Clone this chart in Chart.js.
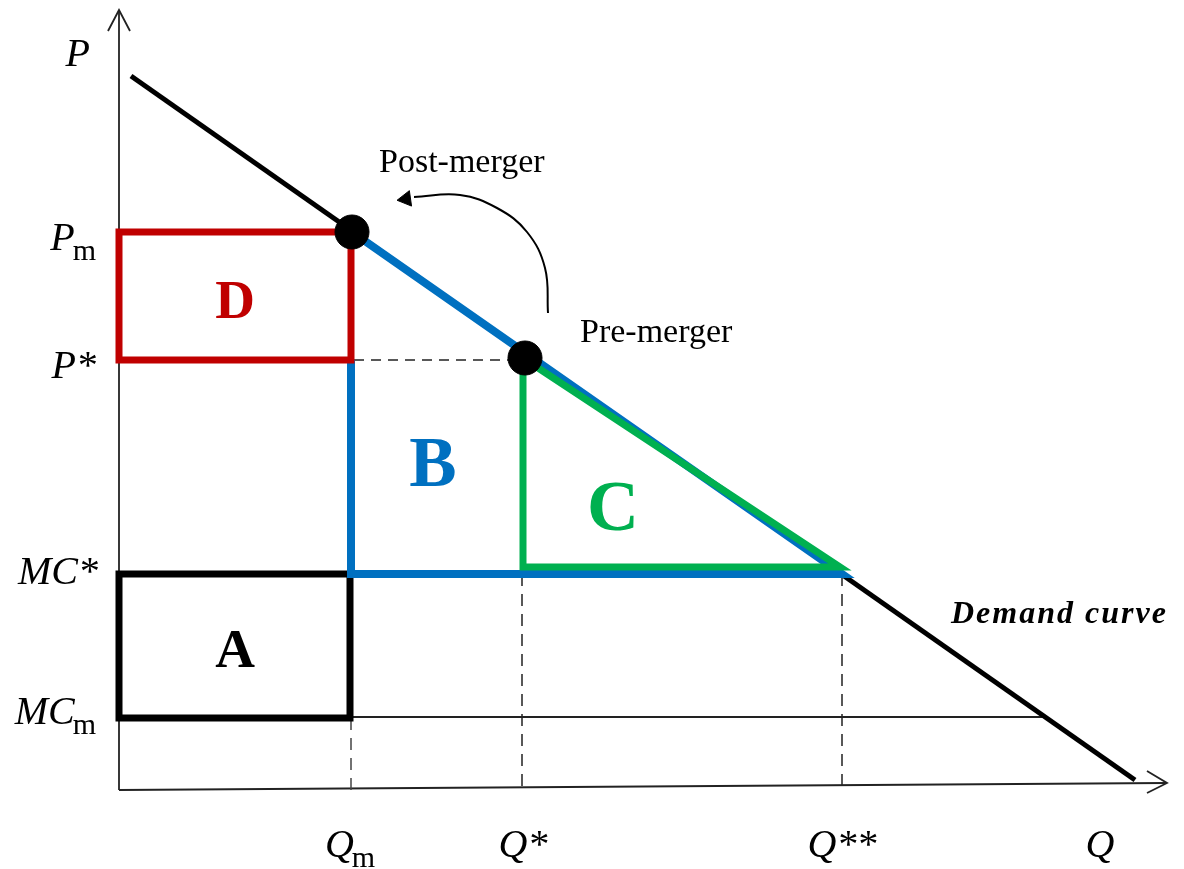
<!DOCTYPE html>
<html>
<head>
<meta charset="utf-8">
<script src="https://cdn.jsdelivr.net/npm/chart.js@4.4.0/dist/chart.umd.min.js"></script>
<style>
    html, body { margin: 0; padding: 0; background: #fff; }
    #wrap { width: 1184px; height: 869px; }
</style>
</head>
<body>
<div id="wrap"><canvas id="chart" width="1184" height="869"></canvas></div>
<script>
// Market values (Q = quantity, P = price)
const qMonopoly = 2.32;     // Qm
const qStar = 4.04;         // Q*
const qStarStar = 7.23;     // Q**
const pMonopoly = 5.58;     // Pm
const pStar = 4.30;         // P*
const mcStar = 2.16;        // MC*
const mcMonopoly = 0.72;    // MCm

// Demand curve end points
const demandQ = [0.12, 10.16];
const demandP = [7.14, 0.10];

// Equilibrium points: post-merger, pre-merger
const eqQ = [2.33, 4.06];
const eqP = [5.58, 4.32];

// Curved arrow between the two equilibria
const arrowQ = [4.29, 4.26, 4.08, 3.78, 3.41, 2.95];
const arrowP = [4.77, 5.22, 5.58, 5.82, 5.95, 5.93];

// Axis labels
const priceLabels = ['P', 'P', 'P*', 'MC*', 'MC'];
const priceSubs = ['', 'm', '', '', 'm'];
const priceValues = [7.26, pMonopoly, pStar, mcStar, mcMonopoly];
const qtyLabels = ['Q', 'Q*', 'Q**', 'Q'];
const qtySubs = ['m', '', '', ''];
const qtyValues = [qMonopoly, qStar, qStarStar, 9.81];

const RED = '#C00000';
const BLUE = '#0070C0';
const GREEN = '#00B050';
const SERIF = '"Liberation Serif", "Times New Roman", serif';

function pts(xs, ys) {
    return xs.map((x, i) => ({ x: x, y: ys[i] }));
}

function seg(opts) {
    return Object.assign({
        type: 'scatter',
        showLine: true,
        pointRadius: 0,
        borderColor: '#000',
        borderWidth: 2,
        fill: false,
        tension: 0
    }, opts);
}

const datasets = [
    // dots on top
    {
        type: 'scatter', data: pts(eqQ, eqP), pointRadius: 17,
        pointBackgroundColor: '#000', pointBorderColor: '#000', order: 0
    },
    // arrowhead of curved arrow
    {
        type: 'scatter', data: [{ x: arrowQ[arrowQ.length - 1] - 0.08, y: arrowP[arrowP.length - 1] - 0.02 }],
        pointStyle: 'triangle', pointRadius: 9, rotation: -98,
        pointBackgroundColor: '#000', pointBorderColor: '#000', order: 1
    },
    seg({ data: pts(arrowQ, arrowP), tension: 0.4, borderWidth: 2, order: 2 }),
    // D (red)
    seg({
        data: pts([0, qMonopoly, qMonopoly, 0, 0], [pMonopoly, pMonopoly, pStar, pStar, pMonopoly]),
        borderColor: RED, borderWidth: 7, borderJoinStyle: 'miter', borderCapStyle: 'square', order: 3
    }),
    // C (green)
    seg({
        data: pts([qStar + 0.03, qStar, qStar, qStarStar - 0.02, qStar + 0.03],
                  [pStar, pStar, mcStar + 0.07, mcStar + 0.07, pStar]),
        borderColor: GREEN, borderWidth: 7, borderJoinStyle: 'miter', order: 4
    }),
    // B (blue)
    seg({
        data: pts([qMonopoly, qMonopoly, qStarStar, eqQ[0]], [pStar, mcStar, mcStar, eqP[0]]),
        borderColor: BLUE, borderWidth: 8, borderJoinStyle: 'miter', order: 5
    }),
    // A (black)
    seg({
        data: pts([0, qMonopoly - 0.01, qMonopoly - 0.01, 0, 0], [mcStar, mcStar, mcMonopoly, mcMonopoly, mcStar]),
        borderColor: '#000', borderWidth: 7, borderJoinStyle: 'miter', borderCapStyle: 'square', order: 6
    }),
    // demand curve
    seg({ data: pts(demandQ, demandP), borderWidth: 5, order: 7 }),
    // MCm line
    seg({ data: pts([0, 9.26], [mcMonopoly + 0.01, mcMonopoly + 0.01]), borderWidth: 2, borderColor: '#222', order: 8 }),
    // dashed guides
    seg({ data: pts([qMonopoly + 0.03, qStar], [pStar, pStar]), borderWidth: 1.5, borderDash: [10, 7], borderColor: '#222', order: 9 }),
    seg({ data: pts([qMonopoly, qMonopoly], [mcMonopoly, 0]), borderWidth: 1.5, borderDash: [12, 8], borderColor: '#444', order: 9 }),
    seg({ data: pts([qStar - 0.01, qStar - 0.01], [mcStar, 0]), borderWidth: 1.5, borderDash: [12, 8], borderColor: '#222', order: 9 }),
    seg({ data: pts([qStarStar, qStarStar], [mcStar, 0.05]), borderWidth: 1.5, borderDash: [12, 8], borderColor: '#222', order: 9 }),
    // axes with open arrowheads
    seg({ data: pts([0, 0], [0, 7.80]), borderWidth: 1.8, borderColor: '#222', order: 10 }),
    seg({ data: pts([-0.11, 0, 0.11], [7.59, 7.80, 7.59]), borderWidth: 1.8, borderColor: '#222', order: 10 }),
    seg({ data: pts([0, 10.47], [0, 0.07]), borderWidth: 1.8, borderColor: '#222', order: 10 }),
    seg({ data: pts([10.28, 10.48, 10.28], [0.19, 0.07, -0.03]), borderWidth: 1.8, borderColor: '#222', order: 10 })
];

// Text drawn after the datasets, anchored to the scales
const textPlugin = {
    id: 'diagramText',
    afterDraw(chart) {
        const ctx = chart.ctx;
        const xs = chart.scales.x;
        const ys = chart.scales.y;
        ctx.save();
        ctx.textBaseline = 'alphabetic';

        function label(main, sub, px, py, align) {
            ctx.font = 'italic 40px ' + SERIF;
            const w1 = ctx.measureText(main).width;
            ctx.font = '30px ' + SERIF;
            const w2 = sub ? ctx.measureText(sub).width : 0;
            let left = px;
            if (align === 'right') left = px - w1 - w2;
            if (align === 'center') left = px - (w1 + w2) / 2;
            ctx.fillStyle = '#000';
            ctx.textAlign = 'left';
            ctx.font = 'italic 40px ' + SERIF;
            ctx.fillText(main, left, py);
            if (sub) {
                ctx.font = '30px ' + SERIF;
                ctx.fillText(sub, left + w1 - 2, py + 10);
            }
        }

        // price axis labels
        const priceOffsets = [2, 18, 18, 10, 6];
        const priceRight = [90, 98, 96, 98, 98];
        priceLabels.forEach((t, i) => {
            label(t, priceSubs[i], priceRight[i], ys.getPixelForValue(priceValues[i]) + priceOffsets[i], 'right');
        });
        // quantity axis labels
        qtyLabels.forEach((t, i) => {
            label(t, qtySubs[i], xs.getPixelForValue(qtyValues[i]), 857, 'center');
        });

        // annotations
        ctx.fillStyle = '#000';
        ctx.textAlign = 'left';
        ctx.font = '34px ' + SERIF;
        ctx.fillText('Post-merger', 379, 172);
        ctx.fillText('Pre-merger', 580, 342);

        ctx.font = 'bold italic 32px ' + SERIF;
        ctx.letterSpacing = '2px';
        ctx.fillText('Demand curve', 951, 623);
        ctx.letterSpacing = '0px';

        // area letters
        ctx.textAlign = 'center';
        const areas = [
            { t: 'D', c: RED, x: (0 + qMonopoly) / 2, y: pStar, dy: -42, size: 55 },
            { t: 'B', c: BLUE, x: 3.14, y: mcStar, dy: -88, size: 71 },
            { t: 'C', c: GREEN, x: 4.94, y: mcStar, dy: -44, size: 72 },
            { t: 'A', c: '#000', x: (0 + qMonopoly) / 2, y: mcMonopoly, dy: -51, size: 55 }
        ];
        areas.forEach(a => {
            ctx.fillStyle = a.c;
            ctx.font = 'bold ' + a.size + 'px ' + SERIF;
            ctx.fillText(a.t, xs.getPixelForValue(a.x), ys.getPixelForValue(a.y) + a.dy);
        });
        ctx.restore();
    }
};

new Chart(document.getElementById('chart'), {
    type: 'scatter',
    data: { datasets: datasets },
    options: {
        responsive: false,
        animation: false,
        layout: { padding: 0, autoPadding: false },
        plugins: {
            legend: { display: false },
            tooltip: { enabled: false }
        },
        scales: {
            x: { type: 'linear', min: -1.19, max: 10.65, display: false },
            y: { type: 'linear', min: -0.79, max: 7.90, display: false }
        }
    },
    plugins: [textPlugin]
});
</script>
</body>
</html>
